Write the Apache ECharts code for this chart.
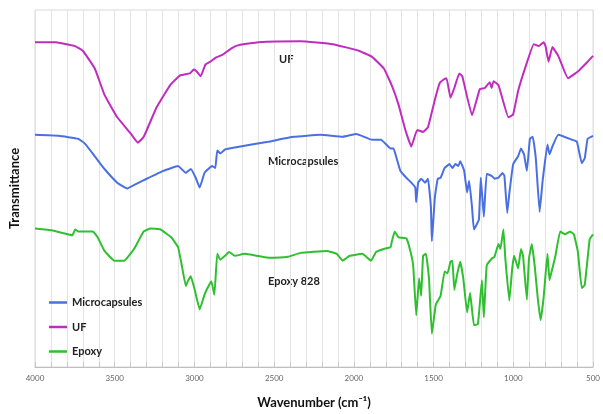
<!DOCTYPE html>
<html>
<head>
<meta charset="utf-8">
<script src="https://cdn.jsdelivr.net/npm/echarts@6/dist/echarts.min.js"></script>
<style>
html,body{margin:0;padding:0;background:#fff;}
#c{width:603px;height:414px;}
</style>
</head>
<body>
<div id="c"></div>
<script>
// Wavenumber (cm-1) and transmittance (arbitrary units, offset spectra)
const ufWavenumber = [4000,3871,3748,3699,3625,3564,3484,3398,3355,3318,3238,3152,3090,3029,3004,2986,2961,2931,2900,2869,2826,2765,2722,2599,2334,2132,1966,1886,1812,1763,1720,1677,1640,1603,1566,1535,1492,1462,1443,1419,1394,1370,1339,1320,1259,1210,1179,1148,1136,1124,1093,1031,1001,970,921,872,841,810,798,779,755,718,657,595,534,500];
const ufValue = [333,333,329,324,306,279,256,239,230,236,266,289,299,301,305,303,298,310,313,317,320,327,330,333,334,331,324,318,306,289,269,243,226,243,241,246,274,291,294,296,276,286,301,298,258,285,286,292,286,293,289,256,259,283,309,331,329,333,329,313,328,319,296,303,313,319];

const microWavenumber = [4000,3852,3730,3687,3625,3564,3484,3422,3361,3299,3195,3103,3054,3023,2992,2967,2937,2906,2888,2869,2857,2838,2808,2746,2537,2377,2212,2070,1984,1886,1830,1769,1751,1732,1708,1671,1640,1615,1609,1597,1578,1554,1535,1517,1511,1492,1474,1456,1431,1400,1382,1363,1345,1333,1308,1290,1277,1259,1247,1216,1204,1185,1167,1136,1118,1093,1068,1056,1038,1025,1001,970,952,933,915,896,878,859,835,816,786,773,755,718,632,601,571,552,534,500];
const microValue = [238,237,234,229,216,203,189,183,188,193,201,206,199,203,194,184,199,204,206,204,222,219,223,225,231,236,238,236,239,233,233,224,224,214,201,194,189,184,169,189,193,189,193,164,129,174,193,194,204,208,204,208,206,211,201,179,191,164,141,151,194,154,198,196,193,194,199,196,158,178,208,216,224,218,201,234,236,214,159,191,228,218,226,238,233,231,209,214,234,237];

const epoxyWavenumber = [4000,3889,3791,3766,3748,3730,3637,3607,3564,3502,3441,3379,3318,3275,3213,3146,3103,3078,3054,3041,3023,2998,2967,2937,2918,2894,2875,2857,2838,2808,2783,2746,2685,2537,2414,2334,2169,2107,2070,2027,1947,1892,1861,1812,1769,1763,1744,1720,1671,1646,1628,1609,1591,1578,1566,1548,1529,1511,1486,1456,1431,1413,1394,1382,1370,1351,1333,1314,1290,1271,1247,1222,1197,1185,1167,1136,1118,1093,1081,1062,1050,1025,1007,995,970,952,939,915,902,884,866,847,829,810,786,773,755,736,706,675,644,620,595,571,552,521,500];
const epoxyValue = [142,140,136,135,141,139,139,133,119,109,109,121,139,142,141,133,123,103,83,88,93,79,59,74,81,88,74,116,110,114,118,114,116,112,113,117,119,116,109,114,116,109,118,121,123,128,139,133,132,119,104,53,91,73,114,116,91,34,64,73,98,96,108,109,79,96,108,91,56,76,43,44,89,51,104,111,113,126,121,141,111,68,101,114,101,121,114,69,111,126,104,71,48,71,116,89,101,114,139,136,139,136,118,81,84,131,136];

const xTickStep = 100;
const xLabelStep = 500;

function pairs(xs, ys){ return xs.map((x,i)=>[x, ys[i]]); }

const FONT = 'Lato, "Open Sans", "DejaVu Sans", sans-serif';
const chart = echarts.init(document.getElementById('c'), null, {renderer:'canvas'});
chart.setOption({
  animation: false,
  backgroundColor: '#ffffff',
  grid: {left: 29, right: 4, top: 10, bottom: 38, show: true, borderColor: '#d9d9d9', borderWidth: 1},
  legend: {
    orient: 'vertical', left: 49, top: 297, padding: 0, itemGap: 13.5,
    icon: 'rect', itemWidth: 18, itemHeight: 2.5,
    textStyle: {fontFamily: FONT, fontWeight: 'bold', fontSize: 11, color: '#222'},
    data: ['Microcapsules', 'UF', 'Epoxy']
  },
  xAxis: {
    type: 'value', inverse: true, min: 500, max: 4000, interval: xTickStep,
    name: 'Wavenumber (cm\u207B\u00B9)', nameLocation: 'middle', nameGap: 29,
    nameTextStyle: {fontFamily: FONT, fontWeight: 'bold', fontSize: 13, color: '#111'},
    axisLine: {lineStyle: {color: '#bfbfbf', width: 1}},
    axisTick: {inside: true, length: 5, lineStyle: {color: '#c8c8c8'}},
    axisLabel: {
      margin: 7, fontSize: 8, color: '#666', fontFamily: FONT,
      showMinLabel: true, showMaxLabel: true, hideOverlap: false,
      formatter: v => (v % xLabelStep === 0 ? String(v) : '')
    },
    splitLine: {show: true, lineStyle: {color: '#e3e3e3', width: 1}}
  },
  yAxis: {
    type: 'value', min: 0, max: 366,
    name: 'Transmittance', nameLocation: 'middle', nameGap: 14,
    nameTextStyle: {fontFamily: FONT, fontWeight: 'bold', fontSize: 13, color: '#111'},
    axisLine: {show: false}, axisTick: {show: false}, axisLabel: {show: false},
    splitLine: {show: false}
  },
  graphic: [
    {type: 'text', left: 279, top: 54, style: {text: 'UF', font: 'bold 11px ' + FONT, fill: '#222'}},
    {type: 'text', left: 268, top: 156, style: {text: 'Microcapsules', font: 'bold 11px ' + FONT, fill: '#222'}},
    {type: 'text', left: 268, top: 276, style: {text: 'Epoxy 828', font: 'bold 11px ' + FONT, fill: '#222'}}
  ],
  series: [
    {name: 'Epoxy', type: 'line', data: pairs(epoxyWavenumber, epoxyValue), showSymbol: false, smooth: 0.1,
     lineStyle: {color: '#2fbf2f', width: 2}, itemStyle: {color: '#2fbf2f'}},
    {name: 'Microcapsules', type: 'line', data: pairs(microWavenumber, microValue), showSymbol: false, smooth: 0.1,
     lineStyle: {color: '#4a6fe3', width: 2}, itemStyle: {color: '#4a6fe3'}},
    {name: 'UF', type: 'line', data: pairs(ufWavenumber, ufValue), showSymbol: false, smooth: 0.1,
     lineStyle: {color: '#c02cc0', width: 2}, itemStyle: {color: '#c02cc0'}}
  ]
});
</script>
</body>
</html>
